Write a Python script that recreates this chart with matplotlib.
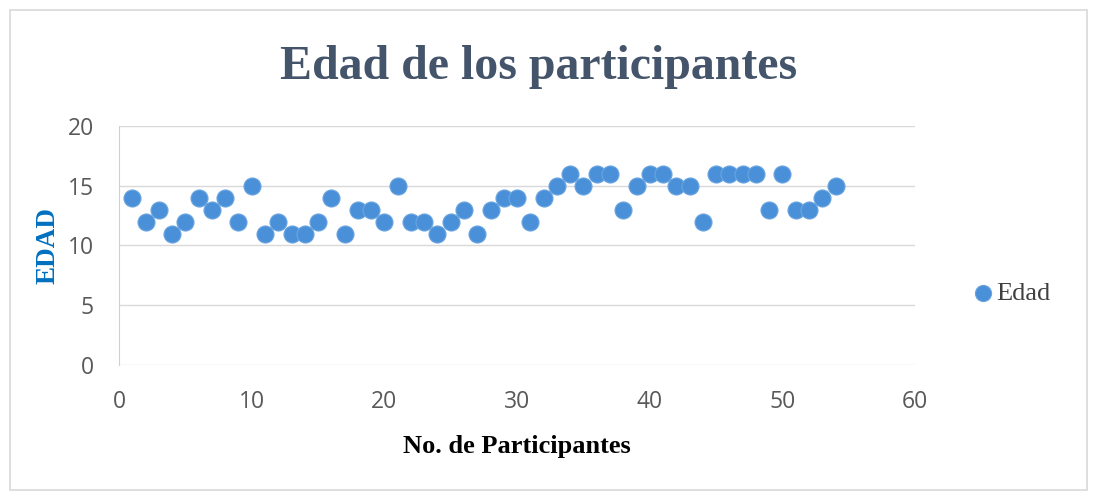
import matplotlib.pyplot as plt
from matplotlib.patches import Rectangle

# data
participantes = list(range(1, 55))
edad = [14, 12, 13, 11, 12, 14, 13, 14, 12, 15,
        11, 12, 11, 11, 12, 14, 11, 13, 13, 12,
        15, 12, 12, 11, 12, 13, 11, 13, 14, 14,
        12, 14, 15, 16, 15, 16, 16, 13, 15, 16,
        16, 15, 15, 12, 16, 16, 16, 16, 13, 16,
        13, 13, 14, 15]
xticks = [0, 10, 20, 30, 40, 50, 60]
yticks = [0, 5, 10, 15, 20]

serif = ['Liberation Serif', 'DejaVu Serif']
sans = ['Open Sans', 'DejaVu Sans']

fig = plt.figure(figsize=(10.96, 4.97), dpi=100)
# outer chart frame
fig.patches.append(Rectangle((0.009, 0.014), 0.983, 0.965, transform=fig.transFigure,
                             fill=False, edgecolor='#d9d9d9', linewidth=1.2))

ax = fig.add_axes([0.1086, 0.2656, 0.7264, 0.4809])
ax.scatter(participantes, edad, s=150, color='#4a90d9', edgecolors='#6aa5e0',
           linewidths=0.8, zorder=3, label='Edad')

ax.set_xlim(0, 60)
ax.set_ylim(0, 20)
ax.set_xticks(xticks)
ax.set_yticks(yticks)
ax.grid(axis='y', color='#d9d9d9', linewidth=1.0)
ax.set_axisbelow(True)
for s in ['top', 'right', 'bottom']:
    ax.spines[s].set_visible(False)
ax.spines['left'].set_color('#d0d0d0')
ax.tick_params(length=0, labelsize=16.5, labelcolor='#595959')
ax.tick_params(axis='x', pad=18)
ax.tick_params(axis='y', pad=18)
for lab in ax.get_xticklabels() + ax.get_yticklabels():
    lab.set_family(sans)

fig.text(0.491, 0.866, 'Edad de los participantes', ha='center', va='center',
         family=serif, fontsize=34.5, fontweight='bold', color='#44546a')
ax.set_xlabel('No. de Participantes', family=serif, fontsize=19,
              fontweight='bold', color='black', labelpad=15)
ax.set_ylabel('EDAD', family=serif, fontsize=19.5, fontweight='bold',
              color='#0070c0', labelpad=5.5)

leg = ax.legend(loc='center left', bbox_to_anchor=(1.022, 0.3), frameon=False,
                prop={'family': serif, 'size': 19}, handletextpad=-0.5,
                markerscale=0.95)
for t in leg.get_texts():
    t.set_color('#404040')

fig.savefig('out.png', dpi=100)
